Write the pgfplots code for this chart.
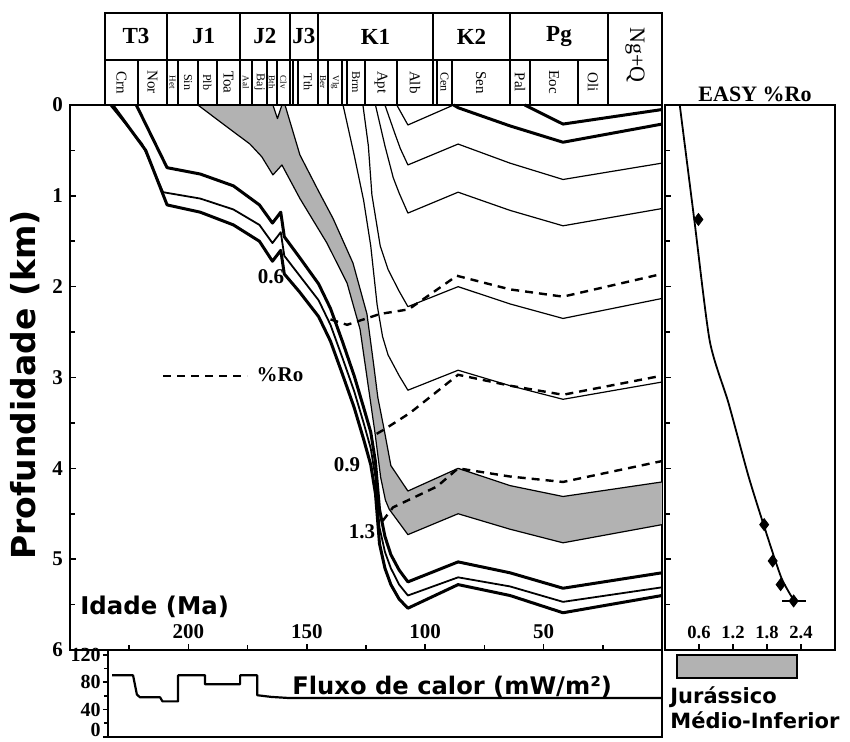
\documentclass[border=0pt]{standalone}
\usepackage{fontspec}
\setmainfont{Liberation Serif}
\newfontfamily\headsans{DejaVu Sans}
\usepackage{pgfplots}
\pgfplotsset{compat=1.18}

% stratigraphic column helpers (x = age in Ma, y = negative depth above the axis)
\newcommand{\period}[4]{%
  \draw[line width=0.9pt] (axis cs:#1,-1.013) rectangle (axis cs:#2,-0.496);
  \node[inner sep=0pt,font=\bfseries\fontsize{11.5}{12}\selectfont] at (axis cs:#3,-0.755) {#4};}
\newcommand{\stage}[5]{%
  \draw[line width=0.7pt] (axis cs:#1,-0.496) rectangle (axis cs:#2,0);
  \node[rotate=-90,inner sep=0pt,font=#5] at (axis cs:#3,-0.25) {#4};}
\newcommand{\stN}{\fontsize{7.5}{8}\selectfont}
\newcommand{\stS}{\fontsize{6}{6}\selectfont}
\newcommand{\stT}{\fontsize{4.5}{4.5}\selectfont}
\newcommand{\tickfont}{\bfseries\fontsize{10.5}{12}\selectfont}

\tikzset{
  hor/.style={black, line width=0.6pt, line join=round},
  horthick/.style={black, line width=1.5pt, line join=round},
  ro/.style={black, line width=1.2pt, dash pattern=on 4pt off 3pt},
}

\begin{document}
\begin{tikzpicture}

% ---------------- burial history ----------------
\begin{axis}[
  at={(35pt,46pt)}, anchor=south west,
  scale only axis, width=296pt, height=272.5pt,
  x dir=reverse, xmin=0, xmax=250,
  y dir=reverse, ymin=0, ymax=6,
  xtick={50,100,150,200}, minor xtick={25,75,125,175,225},
  ytick={0,1,2,3,4,5,6}, minor ytick={0.5,1.5,2.5,3.5,4.5,5.5},
  xtick pos=bottom, ytick pos=left, tick align=inside,
  major tick length=3pt, minor tick length=2.5pt,
  tick style={line width=0.8pt, black},
  axis line style={line width=1pt},
  tick label style={font=\tickfont},
  xticklabel style={anchor=south, yshift=2pt},
  /pgf/number format/assume math mode=true,
  clip=false,
]
% Jurassic (lower-middle) interval
\addplot[fill=black!30, draw=none] coordinates {
 (196,0) (190.9,0.10) (181.2,0.29) (174,0.43) (169,0.57) (164.3,0.77) (160.5,0.66)
 (152.9,1.03) (141.5,1.52) (133,1.96) (127.5,2.47) (124.4,3.03) (121.2,3.61) (118.8,4.10)
 (116.8,4.35) (115.2,4.45) (107.3,4.73) (86.1,4.50) (64.2,4.67) (41.8,4.82) (0,4.62)
 (0,4.15) (41.8,4.31) (64.2,4.19) (86.1,4.00) (107.3,4.25) (114.5,3.97) (117.5,3.55)
 (120,3.22) (121.8,2.85) (124.6,2.30) (130.5,1.74) (138.9,1.25) (145,0.95) (152.9,0.55)
 (159.2,0) (160.5,0) (162.4,0.15) (164.3,0)
} -- cycle;
\addplot[hor] coordinates {
 (196,0) (190.9,0.10) (181.2,0.29) (174,0.43) (169,0.57) (164.3,0.77) (160.5,0.66)
 (152.9,1.03) (141.5,1.52) (133,1.96) (127.5,2.47) (124.4,3.03) (121.2,3.61) (118.8,4.10)
 (116.8,4.35) (115.2,4.45) (107.3,4.73) (86.1,4.50) (64.2,4.67) (41.8,4.82) (0,4.62)};
\addplot[hor] coordinates {
 (159.2,0) (152.9,0.55) (145,0.95) (138.9,1.25) (130.5,1.74) (124.6,2.30) (121.8,2.85)
 (120,3.22) (117.5,3.55) (114.5,3.97) (107.3,4.25) (86.1,4.00) (64.2,4.19) (41.8,4.31) (0,4.15)};
\addplot[hor] coordinates {(164.3,0) (162.4,0.15) (160.5,0)};

% Triassic horizons
\addplot[horthick] coordinates {
 (222,0) (209,0.69) (195,0.76) (181,0.89) (170,1.10) (164.5,1.30) (161,1.18) (159.5,1.45)
 (153,1.68) (145,1.97) (140,2.24) (135,2.60) (130,2.98) (126,3.33) (123,3.60) (121,3.93)
 (119.3,4.45) (117,4.75) (114.5,4.95) (111,5.12) (107.3,5.25) (86.1,5.03) (64.2,5.15)
 (41.8,5.32) (0,5.15)};
\addplot[black, line width=0.9pt, line join=round] coordinates {
 (233,0) (219.5,0.43) (210.7,0.96) (195,1.03) (181,1.15) (170,1.32) (164.5,1.52) (161,1.40)
 (159.5,1.66) (153,1.88) (145,2.15) (140,2.42) (135,2.78) (130,3.15) (126,3.50) (123,3.78)
 (121,4.10) (119.3,4.65) (117,4.92) (114.5,5.10) (111,5.28) (107.3,5.40) (86.1,5.20)
 (64.2,5.30) (41.8,5.47) (0,5.31)};
\addplot[horthick] coordinates {
 (232,0) (218,0.50) (209,1.10) (195,1.18) (181,1.32) (170,1.50) (164.5,1.72) (161,1.60)
 (159.5,1.86) (153,2.06) (145,2.33) (140,2.60) (135,2.96) (130,3.33) (126,3.68) (123,3.96)
 (121,4.28) (119.3,4.83) (117,5.10) (114.5,5.28) (111,5.44) (107.3,5.54) (86.1,5.28)
 (64.2,5.40) (41.8,5.59) (0,5.40)};

% Cretaceous and younger horizons
\addplot[hor] coordinates {
 (134.7,0) (130,0.55) (126,1.05) (123,1.55) (120.3,2.20) (118,2.55) (115.7,2.75) (111,2.98)
 (107.3,3.14) (86.1,2.92) (64.2,3.09) (41.8,3.24) (0,3.05)};
\addplot[hor] coordinates {
 (126.3,0) (124,0.45) (122.5,0.99) (119,1.55) (115.7,1.81) (111,2.05) (107.3,2.22)
 (86.1,2.00) (64.2,2.19) (41.8,2.35) (0,2.13)};
\addplot[hor] coordinates {
 (121,0) (117,0.45) (113.5,0.80) (111,0.97) (107.3,1.19) (86.1,0.96) (64.2,1.16) (41.8,1.33) (0,1.14)};
\addplot[hor] coordinates {
 (117,0) (113,0.30) (110.5,0.48) (107.3,0.66) (86.1,0.43) (64.2,0.64) (41.8,0.82) (0,0.64)};
\addplot[hor] coordinates {(112,0) (107.3,0.22) (88,0)};
\addplot[horthick] coordinates {(88,0) (86.1,0.03) (64.2,0.23) (41.8,0.41) (0,0.21)};
\addplot[horthick] coordinates {(58,0) (41.8,0.21) (0,0.05)};

% vitrinite reflectance isolines
\addplot[ro] coordinates {
 (140,2.36) (133,2.42) (119,2.30) (107,2.25) (86.6,1.88) (64.2,2.03) (41.8,2.11) (0,1.86)};
\addplot[ro] coordinates {
 (120.5,3.62) (117.8,3.58) (106.4,3.39) (86.1,2.97) (64.2,3.09) (41.8,3.19) (0,2.98)};
\addplot[ro] coordinates {
 (118,4.58) (113.6,4.43) (95,4.20) (86.1,4.00) (64.2,4.09) (41.8,4.15) (0,3.92)};

% chronostratigraphic column
\period{235.2}{209.0}{222.1}{T3}
\period{209.0}{178.2}{193.6}{J1}
\period{178.2}{157.1}{167.65}{J2}
\period{157.1}{145.3}{151.2}{J3}
\period{145.3}{96.7}{121}{K1}
\period{96.7}{64.2}{80.45}{K2}
\period{64.2}{22.8}{43.5}{Pg}
\draw[line width=0.9pt] (axis cs:22.8,-1.013) rectangle (axis cs:0,0);
\node[rotate=-90,inner sep=0pt,font=\fontsize{11}{12}\selectfont] at (axis cs:11.4,-0.55) {Ng+Q};
\stage{235.2}{221.3}{228.25}{Crn}{\stN}
\stage{221.3}{209.0}{215.15}{Nor}{\stN}
\stage{209.0}{204.4}{206.7}{Het}{\stT}
\stage{204.4}{196.0}{200.2}{Sin}{\stS}
\stage{196.0}{188.0}{192}{Plb}{\stS}
\stage{188.0}{178.2}{183.1}{Toa}{\stN}
\stage{178.2}{173.1}{175.65}{Aal}{\stT}
\stage{173.1}{166.8}{169.95}{Baj}{\stS}
\stage{166.8}{162.6}{164.7}{Bth}{\stT}
\stage{162.6}{157.1}{159.85}{Clv}{\stT}
\stage{157.1}{155.8}{156.45}{}{\stT}
\stage{155.8}{153.7}{154.75}{}{\stT}
\stage{153.7}{145.3}{149.5}{Tth}{\stS}
\stage{145.3}{141.0}{143.15}{Ber}{\stT}
\stage{141.0}{135.1}{138.05}{Vlg}{\stT}
\stage{135.1}{133.0}{134.05}{}{\stT}
\stage{133.0}{125.4}{129.2}{Brm}{\stS}
\stage{125.4}{111.9}{118.65}{Apt}{\stN}
\stage{111.9}{96.7}{104.3}{Alb}{\stN}
\stage{96.7}{95.0}{95.85}{}{\stT}
\stage{95.0}{88.7}{91.85}{Cen}{\stS}
\stage{88.7}{64.2}{76.45}{Sen}{\stN}
\stage{64.2}{55.7}{59.95}{Pal}{\stN}
\stage{55.7}{35.5}{45.6}{Eoc}{\stN}
\stage{35.5}{22.8}{29.15}{Oli}{\stN}
\end{axis}

% ---------------- EASY %Ro profile ----------------
\begin{axis}[
  at={(332.5pt,46pt)}, anchor=south west,
  scale only axis, width=85pt, height=272.5pt,
  xmin=0, xmax=3, y dir=reverse, ymin=0, ymax=6,
  xtick={0.6,1.2,1.8,2.4}, ytick={0,1,2,3,4,5,6}, yticklabels={},
  minor ytick={0.5,1.5,2.5,3.5,4.5,5.5},
  xtick pos=bottom, ytick pos=left, tick align=inside,
  major tick length=3pt, minor tick length=2.5pt,
  tick style={line width=0.8pt, black},
  axis line style={line width=1pt},
  xticklabel style={anchor=south, yshift=2pt, font=\bfseries\fontsize{9.3}{10}\selectfont},
  /pgf/number format/assume math mode=true,
  clip=false,
]
\addplot[black, line width=0.9pt, smooth, tension=0.4] coordinates {
 (0.26,0) (0.52,1.28) (0.79,2.60) (1.12,3.28) (1.47,4.08) (1.75,4.64) (2.05,5.20) (2.27,5.45)};
\addplot[only marks, mark=diamond*, mark size=3pt, black] coordinates {
 (0.59,1.26) (1.75,4.62) (1.90,5.02) (2.04,5.28) (2.27,5.46)};
\addplot[black, line width=1pt] coordinates {(2.07,5.46) (2.48,5.46)};
\end{axis}

% ---------------- heat flow ----------------
\begin{axis}[
  at={(54pt,2.5pt)}, anchor=south west,
  scale only axis, width=277pt, height=43.5pt,
  x dir=reverse, xmin=0, xmax=234, ymin=0, ymax=127,
  xtick=\empty, ytick={0,40,80,120}, minor ytick={20,60,100},
  yticklabels={{\raisebox{3.5pt}[\height][\depth]{0}},40,80,120},
  ytick pos=left, tick align=outside,
  major tick length=2.5pt, minor tick length=2pt,
  tick style={line width=0.8pt, black},
  axis line style={line width=1pt},
  tick label style={font=\bfseries\fontsize{10}{11}\selectfont},
  yticklabel style={inner sep=1pt},
]
\addplot[black, line width=1.1pt, line join=round] coordinates {
 (232.3,90) (223.4,90) (221.8,62) (220.5,58) (212,58) (211,52) (204.4,52) (204.4,90)
 (193,90) (193,77) (178.2,77) (178.2,90) (171,90) (171,61) (165,58.5) (158,57) (0,57)};
\end{axis}

% ---------------- texts ----------------
\node[rotate=90, inner sep=0pt, font=\headsans\bfseries\fontsize{16.5}{18}\selectfont] at (12.5pt,178.5pt) {Profundidade (km)};
\node[anchor=west, inner sep=0pt, font=\headsans\bfseries\fontsize{12.2}{14}\selectfont] at (40pt,67.5pt) {Idade (Ma)};
\node[anchor=west, inner sep=0pt, font=\headsans\bfseries\fontsize{12.1}{14}\selectfont] at (146pt,27.5pt) {Fluxo de calor (mW/m²)};
\node[inner sep=0pt, font=\bfseries\fontsize{11}{12}\selectfont] at (377.5pt,324pt) {EASY \%Ro};
\draw[fill=black!30, line width=0.6pt] (338.5pt,32pt) rectangle (398.5pt,43.5pt);
\node[anchor=west, inner sep=0pt, font=\headsans\bfseries\fontsize{10.5}{12}\selectfont] at (335pt,22.5pt) {Jurássico};
\node[anchor=west, inner sep=0pt, font=\headsans\bfseries\fontsize{10.5}{12}\selectfont] at (335pt,11pt) {Médio-Inferior};
\node[inner sep=0pt, font=\bfseries\fontsize{10.5}{12}\selectfont] at (135.5pt,232.5pt) {0.6};
\node[inner sep=0pt, font=\bfseries\fontsize{10.5}{12}\selectfont] at (173.5pt,138.5pt) {0.9};
\node[inner sep=0pt, font=\bfseries\fontsize{10.5}{12}\selectfont] at (181pt,105pt) {1.3};
\draw[ro] (81.5pt,183pt) -- (123.5pt,183pt);
\node[inner sep=0pt, font=\bfseries\fontsize{10.5}{12}\selectfont] at (140pt,183.5pt) {\%Ro};

\pgfresetboundingbox
\useasboundingbox (0,0) rectangle (425pt,371pt);
\end{tikzpicture}
\end{document}
